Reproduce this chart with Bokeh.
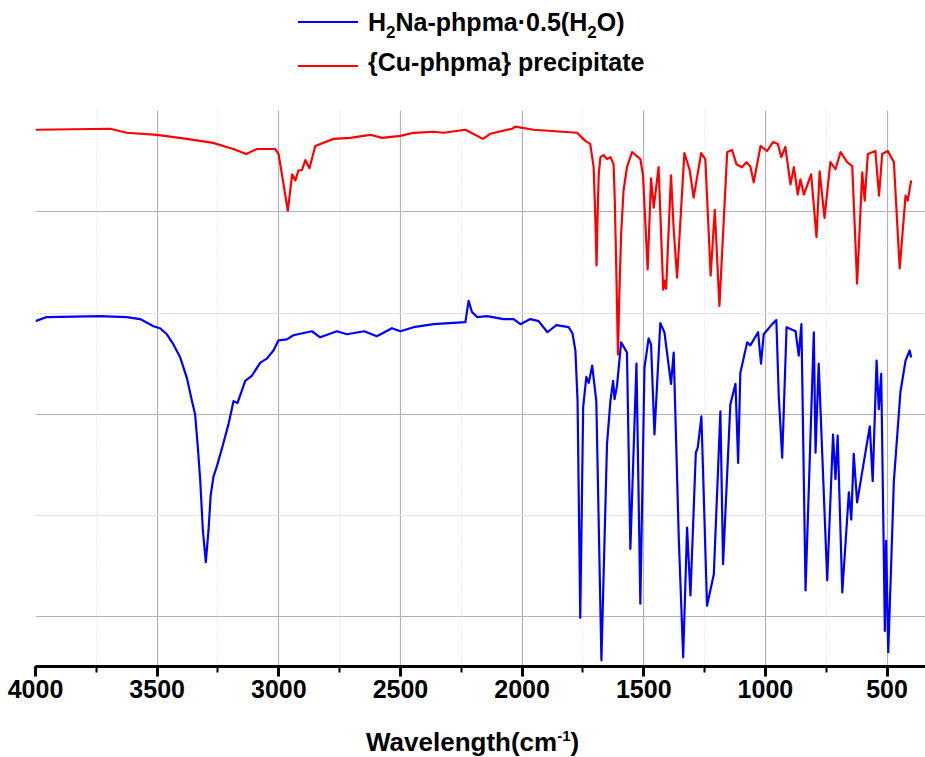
from bokeh.plotting import figure
from bokeh.models import Range1d, SingleIntervalTicker, FixedTicker, Grid, Div
from bokeh.layouts import column
from bokeh.embed import file_html
from bokeh.resources import INLINE

# ---------------- data ----------------
# wavenumber (cm-1) and transmittance (a.u., vertically offset spectra)
red_name = "{Cu-phpma} precipitate"
red_wn = [4000, 3693, 3625, 3501, 3378, 3270, 3187, 3134, 3090, 3015, 3001, 2983, 2963, 2945,
          2932, 2919, 2905, 2891, 2874, 2850, 2775, 2706, 2624, 2576, 2500, 2446, 2364, 2323,
          2233, 2161, 2131, 2041, 2028, 1953, 1774, 1740, 1720, 1706, 1699, 1694, 1690, 1685,
          1678, 1665, 1651, 1637, 1624, 1619, 1613, 1606, 1601, 1593, 1583, 1569, 1548, 1514,
          1503, 1484, 1470, 1459, 1439, 1420, 1414, 1408, 1388, 1377, 1363, 1333, 1311, 1295,
          1264, 1247, 1225, 1208, 1189, 1157, 1137, 1119, 1096, 1078, 1062, 1048, 1020, 993,
          968, 949, 935, 918, 897, 883, 867, 856, 842, 812, 790, 777, 757, 733, 712, 691, 664,
          643, 623, 602, 592, 579, 548, 533, 520, 497, 472, 448, 424, 415, 401]
red_T = [68.1, 68.2, 67.8, 67.6, 67.2, 66.8, 66.2, 65.7, 66.2, 66.2, 65.7, 63.1, 60.1, 63.7,
         63.1, 64.1, 64.1, 65.1, 64.3, 66.5, 67.2, 67.3, 67.6, 67.3, 67.5, 67.8, 67.9, 67.8,
         68.1, 67.2, 67.7, 68.2, 68.4, 68.1, 67.8, 67.0, 66.7, 64.4, 59.4, 54.7, 59.4, 63.7,
         65.4, 65.6, 65.2, 65.4, 64.7, 61.1, 54.5, 45.9, 51.2, 57.8, 62.1, 64.4, 65.9, 65.2,
         63.6, 54.3, 63.3, 60.4, 64.4, 52.3, 53.2, 52.4, 63.6, 58.3, 53.5, 65.8, 64.1, 61.4,
         65.8, 65.2, 53.7, 60.2, 50.7, 65.9, 66.1, 64.7, 64.4, 64.9, 64.5, 62.9, 66.5, 66.0,
         66.9, 66.7, 65.4, 66.4, 62.7, 64.4, 61.7, 63.2, 61.7, 63.7, 57.5, 64.0, 59.4, 64.9,
         64.2, 65.9, 64.9, 64.5, 52.9, 63.9, 61.1, 65.7, 66.0, 61.6, 65.7, 66.0, 64.9, 54.4,
         61.6, 61.1, 63.1]

blue_name = "H2Na-phpma·0.5(H2O)"
blue_wn = [4000, 3954, 3734, 3625, 3570, 3515, 3488, 3460, 3433, 3405, 3378, 3357, 3344, 3333,
           3323, 3312, 3300, 3289, 3280, 3268, 3254, 3234, 3207, 3186, 3170, 3138, 3111, 3076,
           3049, 3022, 3001, 2967, 2940, 2864, 2830, 2761, 2720, 2649, 2597, 2535, 2500, 2446,
           2364, 2233, 2220, 2206, 2185, 2144, 2076, 2035, 2007, 1966, 1932, 1896, 1859, 1809,
           1793, 1781, 1772, 1761, 1749, 1736, 1726, 1712, 1695, 1674, 1651, 1637, 1626, 1620,
           1610, 1593, 1569, 1555, 1530, 1514, 1497, 1480, 1470, 1456, 1432, 1415, 1388, 1377,
           1356, 1338, 1322, 1308, 1286, 1278, 1263, 1240, 1212, 1185, 1174, 1164, 1144, 1123,
           1112, 1103, 1075, 1062, 1030, 1018, 1007, 972, 955, 945, 931, 913, 876, 863, 852, 835,
           801, 794, 781, 746, 722, 712, 703, 684, 657, 647, 637, 623, 571, 559, 543, 534, 524,
           509, 504, 495, 472, 445, 424, 407, 401]
blue_T = [49.2, 49.6, 49.7, 49.6, 49.4, 48.7, 48.5, 47.9, 46.9, 45.6, 43.6, 41.3, 40.0, 36.8,
          33.5, 28.5, 25.4, 28.5, 32.0, 33.9, 34.9, 36.6, 39.0, 41.3, 41.1, 43.3, 43.8, 45.1,
          45.5, 46.3, 47.3, 47.4, 47.8, 48.2, 47.6, 48.2, 47.9, 48.2, 47.7, 48.5, 48.2, 48.6,
          48.9, 49.1, 51.2, 50.1, 49.6, 49.7, 49.4, 49.4, 48.9, 49.4, 49.2, 48.1, 48.8, 48.6,
          48.0, 46.3, 41.3, 19.9, 40.7, 43.7, 43.1, 44.8, 41.3, 15.7, 37.1, 41.3, 43.3, 41.5,
          42.8, 47.1, 46.1, 26.7, 45.0, 21.3, 44.6, 47.5, 46.9, 38.0, 49.0, 48.1, 43.0, 46.1,
          27.7, 16.0, 28.8, 22.1, 36.2, 36.7, 39.8, 21.1, 24.2, 40.3, 25.2, 30.5, 41.0, 43.0,
          35.2, 44.1, 47.1, 46.8, 48.1, 45.0, 47.9, 48.9, 49.3, 41.7, 35.7, 48.6, 48.2, 45.8,
          48.9, 22.6, 48.1, 36.2, 45.0, 23.6, 38.0, 33.6, 37.9, 22.4, 32.3, 29.6, 36.1, 31.3,
          38.8, 33.4, 45.3, 40.5, 44.0, 18.6, 27.5, 16.5, 33.4, 42.2, 45.3, 46.3, 45.6]

x_major_step = 500
y_major_ticks = [20, 40, 60]
y_minor_ticks = [30, 50, 70]

FONT = "'Liberation Sans', Arial, Helvetica, sans-serif"

# ---------------- legend (HTML, for subscripts) ----------------
legend_html = f"""
<div style="position:relative;width:925px;height:100px;font-family:{FONT};font-weight:bold;font-size:25px;color:#000;">
  <div style="position:absolute;left:298px;top:21px;width:60px;height:2px;background:#0000ff;"></div>
  <div style="position:absolute;left:368px;top:10px;line-height:1;white-space:nowrap;">H<sub style="font-size:17px;vertical-align:-7px;line-height:0;">2</sub>Na-phpma&middot;0.5(H<sub style="font-size:17px;vertical-align:-7px;line-height:0;">2</sub>O)</div>
  <div style="position:absolute;left:298px;top:65px;width:60px;height:2px;background:#ff0000;"></div>
  <div style="position:absolute;left:368px;top:50px;line-height:1;white-space:nowrap;">{red_name}</div>
</div>
"""
legend_div = Div(text=legend_html, width=925, height=100, margin=0)

# ---------------- main plot ----------------
p = figure(width=925, height=612, output_backend="svg", toolbar_location=None,
           x_range=Range1d(4000, 342), y_range=Range1d(15.09, 70),
           y_axis_location=None, min_border_left=35, min_border_right=0,
           min_border_top=10, min_border_bottom=46, margin=0)
p.outline_line_color = None
p.background_fill_color = "white"
p.border_fill_color = "white"

ticker = SingleIntervalTicker(interval=x_major_step, num_minor_ticks=2)
p.xaxis.ticker = ticker
p.xgrid.ticker = ticker
p.xgrid.grid_line_color = "#b4b4b4"
p.xgrid.grid_line_width = 1.2
p.xgrid.minor_grid_line_color = "#dcdcdc"
p.xgrid.minor_grid_line_dash = "1 2"

yg = Grid(dimension=1, ticker=FixedTicker(ticks=y_major_ticks, minor_ticks=y_minor_ticks),
          grid_line_color="#b4b4b4", grid_line_width=1.2,
          minor_grid_line_color="#dcdcdc", minor_grid_line_dash="1 2")
p.add_layout(yg)

ax = p.xaxis[0]
ax.axis_line_width = 3
ax.axis_line_color = "black"
ax.major_tick_line_width = 3
ax.major_tick_out = 10
ax.major_tick_in = 0
ax.minor_tick_line_width = 2
ax.minor_tick_out = 6
ax.minor_tick_in = 0
ax.major_label_text_font = "Liberation Sans"
ax.major_label_text_font_style = "bold"
ax.major_label_text_font_size = "25px"
ax.major_label_text_color = "black"
ax.major_label_standoff = 3

p.line(blue_wn, blue_T, line_color="#0000ff", line_width=2.2, line_join="round")
p.line(red_wn, red_T, line_color="#ff0000", line_width=2.2, line_join="round")

# ---------------- x-axis title (HTML, for superscript) ----------------
title_html = f"""
<div style="position:relative;width:925px;height:45px;">
  <div style="position:absolute;left:366px;top:16px;font-family:{FONT};font-weight:bold;font-size:26px;line-height:1.1;white-space:nowrap;color:#000;">Wavelength(cm<sup style="font-size:15px;vertical-align:10px;line-height:0;">-1</sup>)</div>
</div>
"""
title_div = Div(text=title_html, width=925, height=45, margin=0)

layout = column(legend_div, p, title_div, spacing=0)
open("out.html", "w").write(file_html(layout, INLINE))
